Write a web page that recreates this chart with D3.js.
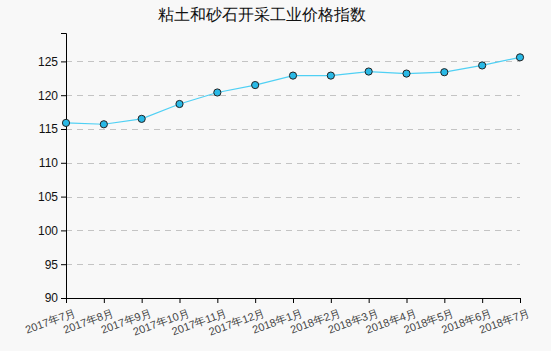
<!DOCTYPE html>
<html>
<head>
<meta charset="utf-8">
<script src="https://cdn.jsdelivr.net/npm/d3@7/dist/d3.min.js"></script>
<style>
  body { margin: 0; background: #f8f8f8; }
  svg { display: block; font-family: "DejaVu Sans", sans-serif; }
</style>
</head>
<body>
<div id="chart"></div>
<script>
// 粘土和砂石开采工业价格指数
const months = ["2017年7月", "2017年8月", "2017年9月", "2017年10月", "2017年11月", "2017年12月",
  "2018年1月", "2018年2月", "2018年3月", "2018年4月", "2018年5月", "2018年6月", "2018年7月"];
const indexValues = [115.9, 115.7, 116.5, 118.7, 120.4, 121.5, 122.9, 122.9, 123.5, 123.2, 123.4, 124.4, 125.6];
const yTicks = [90, 95, 100, 105, 110, 115, 120, 125];

const width = 551, height = 351;
const margin = { top: 33, right: 31, bottom: 53, left: 66 };
const innerWidth = width - margin.left - margin.right;
const innerHeight = height - margin.top - margin.bottom;

const svg = d3.select("#chart").append("svg")
  .attr("width", width)
  .attr("height", height);

svg.append("rect").attr("width", width).attr("height", height).attr("fill", "#f8f8f8");

svg.append("text")
  .attr("x", 262)
  .attr("y", 20)
  .attr("text-anchor", "middle")
  .attr("font-size", 16)
  .attr("fill", "#111")
  .text("粘土和砂石开采工业价格指数");

const g = svg.append("g").attr("transform", `translate(${margin.left},${margin.top})`);

const x = d3.scalePoint().domain(months).range([0, innerWidth]);
const y = d3.scaleLinear().domain([90, 129.2]).range([innerHeight, 0]);

// grid
g.append("g")
  .selectAll("line")
  .data(yTicks.filter(d => d > 90))
  .join("line")
  .attr("x1", 0)
  .attr("x2", innerWidth)
  .attr("y1", d => Math.round(y(d)) + 0.5)
  .attr("y2", d => Math.round(y(d)) + 0.5)
  .attr("stroke", "#c4c4c4")
  .attr("stroke-dasharray", "6,5");

// y axis
const yAxis = g.append("g")
  .call(d3.axisLeft(y).tickValues(yTicks).tickSize(5).tickPadding(3));
yAxis.selectAll("text").attr("font-size", 12).attr("fill", "#111");
yAxis.select(".domain").attr("stroke", "#000");
yAxis.selectAll(".tick line").attr("stroke", "#000");

// x axis
const xAxis = g.append("g")
  .attr("transform", `translate(0,${innerHeight})`)
  .call(d3.axisBottom(x).tickSize(5).tickSizeOuter(0));
xAxis.select(".domain").attr("stroke", "#000");
xAxis.selectAll(".tick line").attr("stroke", "#000");
xAxis.selectAll("text")
  .attr("font-size", 11)
  .attr("fill", "#444")
  .attr("text-anchor", "end")
  .attr("dx", "0.3em")
  .attr("dy", "1.1em")
  .attr("transform", "rotate(-20)");

// line
g.append("path")
  .datum(indexValues)
  .attr("fill", "none")
  .attr("stroke", "#4fd0f4")
  .attr("stroke-width", 1.2)
  .attr("d", d3.line().x((d, i) => x(months[i])).y(d => y(d)));

g.selectAll("circle")
  .data(indexValues)
  .join("circle")
  .attr("cx", (d, i) => x(months[i]))
  .attr("cy", d => y(d))
  .attr("r", 3.6)
  .attr("fill", "#29b9e6")
  .attr("stroke", "#222")
  .attr("stroke-width", 1);
</script>
</body>
</html>
